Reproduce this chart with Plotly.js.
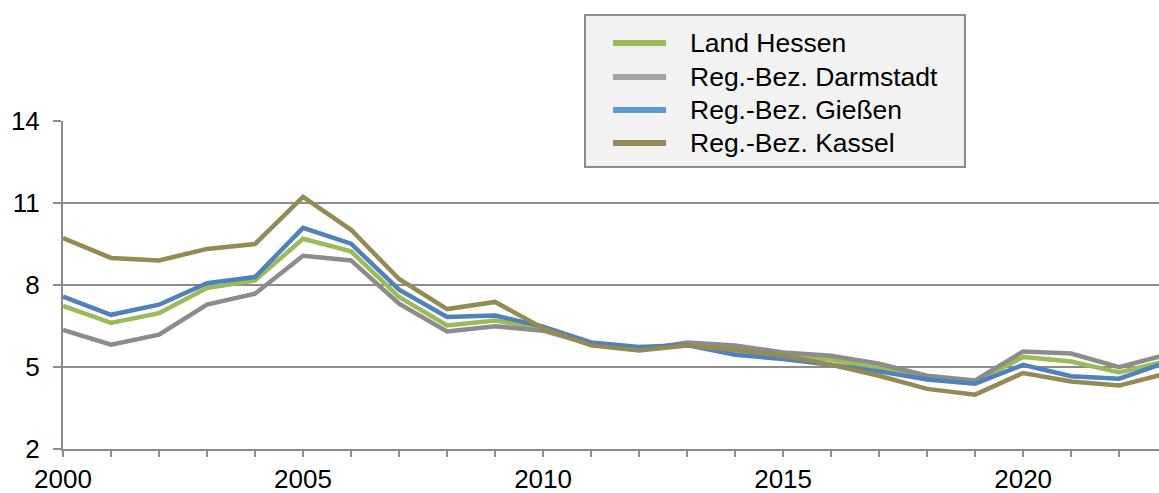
<!DOCTYPE html>
<html>
<head>
<meta charset="utf-8">
<script src="https://cdn.plot.ly/plotly-3.0.1.min.js"></script>
<style>html,body{margin:0;padding:0;background:#fff;}#chart{width:1159px;height:493px;}</style>
</head>
<body>
<div id="chart"></div>
<script>
const years = [2000,2001,2002,2003,2004,2005,2006,2007,2008,2009,2010,2011,2012,2013,2014,2015,2016,2017,2018,2019,2020,2021,2022,2023];
const landHessen   = [7.24,6.61,6.97,7.89,8.17,9.69,9.23,7.56,6.52,6.70,6.40,5.85,5.65,5.82,5.60,5.45,5.27,4.96,4.60,4.44,5.37,5.20,4.80,5.23];
const darmstadt    = [6.36,5.82,6.18,7.28,7.68,9.07,8.90,7.32,6.30,6.49,6.33,5.82,5.62,5.90,5.79,5.53,5.41,5.12,4.68,4.51,5.57,5.49,4.99,5.46];
const giessen      = [7.58,6.91,7.28,8.07,8.29,10.09,9.51,7.83,6.83,6.88,6.48,5.90,5.73,5.80,5.45,5.29,5.08,4.84,4.54,4.39,5.08,4.66,4.57,5.18];
const kassel       = [9.72,8.99,8.90,9.32,9.50,11.22,10.02,8.22,7.12,7.38,6.42,5.79,5.60,5.79,5.63,5.41,5.08,4.68,4.20,3.99,4.78,4.47,4.32,4.77];
const seriesNames  = ["Land Hessen","Reg.-Bez. Darmstadt","Reg.-Bez. Gießen","Reg.-Bez. Kassel"];
const seriesColors = ["#9BBB59","#8C8C8C","#4F81BD","#948A54"];
const legendColors = ["#9BBB59","#A5A5A5","#5B9BD5","#948A54"];
const yTicks = [2,5,8,11,14];
const xTickYears = [2000,2005,2010,2015,2020];

const allSeries = [landHessen, darmstadt, giessen, kassel];
const traces = allSeries.map((vals,i)=>({
  type:'scatter', mode:'lines', x:years, y:vals, name:seriesNames[i],
  line:{color:seriesColors[i], width:4.5}, showlegend:false
}));

// plot area in pixels
const W=1159, H=493, L=63, R=0, T=121, B=44;
const pw = W-L-R, ph = H-T-B;
const px = v => (v-L)/pw;
const py = v => (H-B-v)/ph;

const fontFam = 'Arial, "Liberation Sans", sans-serif';
const shapes = [{
  type:'rect', xref:'paper', yref:'paper', layer:'above',
  x0:px(585), x1:px(965), y0:py(167), y1:py(15),
  fillcolor:'#F2F2F2', line:{color:'#8C8C8C', width:2}
}];
const annotations = [];
const rowY = [43, 77, 110, 143];
seriesNames.forEach((n,i)=>{
  shapes.push({type:'line', xref:'paper', yref:'paper', layer:'above',
    x0:px(613), x1:px(666), y0:py(rowY[i]), y1:py(rowY[i]),
    line:{color:legendColors[i], width:6}});
  annotations.push({xref:'paper', yref:'paper', x:px(688), y:py(rowY[i]),
    xanchor:'left', yanchor:'middle', text:n, showarrow:false,
    font:{family:fontFam, size:26.5, color:'#000'}});
});

const layout = {
  width:W, height:H,
  margin:{l:L, r:R, t:T, b:B, pad:0},
  paper_bgcolor:'#fff', plot_bgcolor:'#fff',
  font:{family:fontFam, size:26, color:'#000'},
  showlegend:false,
  shapes:shapes, annotations:annotations,
  xaxis:{
    range:[2000,2022.83], tickvals:xTickYears, ticktext:xTickYears.map(String),
    ticks:'outside', ticklen:6, tickwidth:2, tickcolor:'#8C8C8C',
    minor:{dtick:1, tick0:2000, ticks:'outside', ticklen:6, tickwidth:2, tickcolor:'#8C8C8C', showgrid:false},
    showgrid:false, zeroline:false, showline:true, linecolor:'#8C8C8C', linewidth:2,
    ticklabelstandoff:0,
    tickfont:{family:fontFam, size:26, color:'#000'}
  },
  yaxis:{
    range:[2,14], tickvals:yTicks, ticktext:yTicks.map(String),
    ticks:'outside', ticklen:8, tickwidth:2, tickcolor:'#8C8C8C',
    showgrid:true, gridcolor:'#8C8C8C', gridwidth:2,
    zeroline:false, showline:true, linecolor:'#8C8C8C', linewidth:2,
    ticklabelstandoff:8,
    tickfont:{family:fontFam, size:26, color:'#000'}
  }
};
Plotly.newPlot('chart', traces, layout, {displayModeBar:false, staticPlot:true});
</script>
</body>
</html>
